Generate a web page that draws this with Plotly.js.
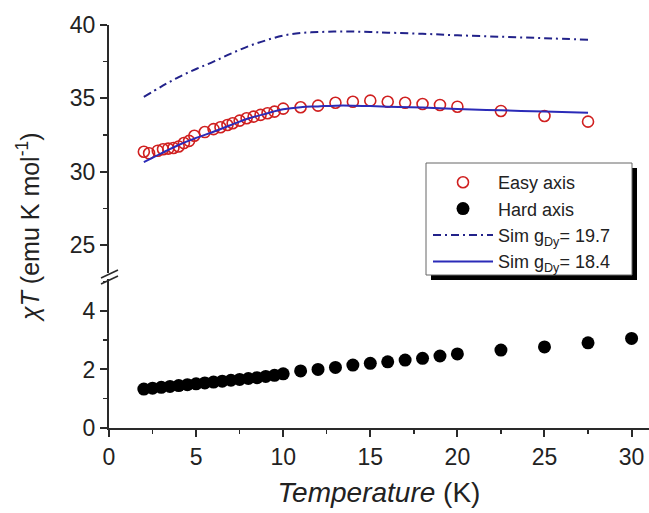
<!DOCTYPE html>
<html><head><meta charset="utf-8">
<script src="https://cdn.plot.ly/plotly-3.0.1.min.js"></script>
<style>html,body{margin:0;padding:0;background:#fff}#chart{width:649px;height:513px}</style>
</head><body><div id="chart"></div>
<script>
// Easy axis (open red circles), top segment
const easyT = [2, 2.3, 2.8, 3.1, 3.4, 3.7, 4.0, 4.3, 4.6, 4.9, 5.5, 6.0, 6.4, 6.8, 7.1, 7.5, 7.9, 8.3, 8.7, 9.1, 9.5, 10, 11, 12, 13, 14, 15, 16, 17, 18, 19, 20, 22.5, 25, 27.5];
const easyChiT = [31.36, 31.25, 31.43, 31.53, 31.57, 31.61, 31.72, 31.95, 32.1, 32.45, 32.7, 32.9, 33.03, 33.18, 33.3, 33.48, 33.64, 33.75, 33.87, 33.98, 34.09, 34.3, 34.39, 34.5, 34.7, 34.77, 34.84, 34.77, 34.7, 34.61, 34.55, 34.43, 34.14, 33.8, 33.41];
// Hard axis (filled black circles), bottom segment
const hardT = [2, 2.5, 3, 3.5, 4, 4.5, 5, 5.5, 6, 6.5, 7, 7.5, 8, 8.5, 9, 9.5, 10, 11, 12, 13, 14, 15, 16, 17, 18, 19, 20, 22.5, 25, 27.5, 30];
const hardChiT = [1.33, 1.36, 1.39, 1.42, 1.45, 1.48, 1.51, 1.54, 1.57, 1.60, 1.63, 1.66, 1.69, 1.72, 1.76, 1.80, 1.85, 1.95, 2.00, 2.07, 2.15, 2.21, 2.26, 2.32, 2.38, 2.46, 2.53, 2.66, 2.77, 2.91, 3.06];
// Simulations
const simT = [2, 3, 4, 5, 6, 7, 8, 9, 10, 11, 12, 13, 14, 15, 16, 18, 20, 22.5, 25, 27.5];
const sim197 = [35.1, 35.8, 36.45, 37.0, 37.5, 38.05, 38.55, 38.95, 39.28, 39.45, 39.52, 39.55, 39.55, 39.52, 39.48, 39.4, 39.3, 39.2, 39.1, 39.0];
const sim184 = [30.65, 31.25, 31.82, 32.3, 32.72, 33.18, 33.62, 33.95, 34.25, 34.4, 34.45, 34.5, 34.5, 34.47, 34.43, 34.37, 34.28, 34.18, 34.1, 34.02];

const xTicks = [0, 5, 10, 15, 20, 25, 30];
const yTopTicks = [25, 30, 35, 40];
const yBotTicks = [0, 2, 4];

const FONT = 'Liberation Sans, Arial, sans-serif';
const AX = '#2a2a2a';

const traces = [
  {x: easyT, y: easyChiT, xaxis: 'x', yaxis: 'y2', mode: 'markers', name: 'Easy axis',
   marker: {symbol: 'circle-open', size: 11, color: '#d02020', line: {width: 1.6, color: '#d02020'}}},
  {x: hardT, y: hardChiT, xaxis: 'x', yaxis: 'y', mode: 'markers', name: 'Hard axis',
   marker: {symbol: 'circle', size: 13, color: '#000000'}},
  {x: simT, y: sim197, xaxis: 'x', yaxis: 'y2', mode: 'lines', name: 'Sim g<sub>Dy</sub>= 19.7',
   line: {color: '#22228a', width: 2, dash: '8px,4px,2px,4px', shape: 'spline'}},
  {x: simT, y: sim184, xaxis: 'x', yaxis: 'y2', mode: 'lines', name: 'Sim g<sub>Dy</sub>= 18.4',
   line: {color: '#2b2bb8', width: 2, shape: 'spline'}}
];

const L = 109, T = 25, PW = 540, PH = 403;
const px = v => (v - L) / PW;
const pyy = v => (T + PH - v) / PH;

const layout = {
  width: 649, height: 513,
  margin: {l: L, r: 0, t: T, b: 85},
  paper_bgcolor: '#fff', plot_bgcolor: '#fff',
  font: {family: FONT, color: '#222'},
  showlegend: true,
  legend: {x: px(428), y: pyy(164), xanchor: 'left', yanchor: 'top',
    bgcolor: 'rgba(0,0,0,0)', borderwidth: 0,
    font: {family: FONT, size: 18, color: '#222'}, itemwidth: 60, tracegroupgap: 0},
  xaxis: {range: [0, 31], anchor: 'y', showline: true, linecolor: AX, linewidth: 2,
    ticks: 'outside', ticklen: 7, tickwidth: 2, tickcolor: AX,
    tickvals: xTicks, ticktext: xTicks.map(String),
    minor: {dtick: 2.5, ticks: 'outside', ticklen: 4, tickwidth: 1.5, tickcolor: AX, showgrid: false},
    showgrid: false, zeroline: false, tickfont: {size: 23, family: FONT, color: '#222'},
    title: {text: '<i>Temperature</i> (K)', font: {size: 28, family: FONT, color: '#222'}, standoff: 14}},
  yaxis: {domain: [0, 0.372], range: [0, 5.12], anchor: 'x', showline: true, linecolor: AX, linewidth: 2,
    ticks: 'outside', ticklen: 7, tickwidth: 2, tickcolor: AX,
    tickvals: yBotTicks, ticktext: yBotTicks.map(String),
    minor: {dtick: 1, ticks: 'outside', ticklen: 4, tickwidth: 1.5, tickcolor: AX, showgrid: false},
    showgrid: false, zeroline: false, tickfont: {size: 23, family: FONT, color: '#222'}},
  yaxis2: {domain: [0.385, 1], range: [23.1, 40], anchor: 'x', showline: true, linecolor: AX, linewidth: 2,
    ticks: 'outside', ticklen: 7, tickwidth: 2, tickcolor: AX,
    tickvals: yTopTicks, ticktext: yTopTicks.map(String),
    minor: {dtick: 2.5, ticks: 'outside', ticklen: 4, tickwidth: 1.5, tickcolor: AX, showgrid: false},
    showgrid: false, zeroline: false, tickfont: {size: 23, family: FONT, color: '#222'}},
  annotations: [
    {xref: 'paper', yref: 'paper', x: px(28), y: pyy(227), xanchor: 'center', yanchor: 'middle',
     textangle: -90, showarrow: false, text: '<i>χT</i> (emu K mol<sup>-1</sup>)',
     font: {size: 25, family: FONT, color: '#222'}}
  ],
  shapes: [
    // legend drop shadow and box
    {type: 'rect', xref: 'paper', yref: 'paper', x0: px(431), x1: px(637), y0: pyy(280), y1: pyy(168),
     fillcolor: '#000', line: {width: 0}, layer: 'above'},
    {type: 'rect', xref: 'paper', yref: 'paper', x0: px(426), x1: px(632), y0: pyy(275), y1: pyy(163),
     fillcolor: '#fff', line: {width: 1, color: '#666'}, layer: 'above'},
    // axis break marks
    {type: 'rect', xref: 'paper', yref: 'paper', x0: px(104), x1: px(114), y0: pyy(279), y1: pyy(274),
     fillcolor: '#fff', line: {width: 0}, layer: 'above'},
    {type: 'line', xref: 'paper', yref: 'paper', x0: px(101), y0: pyy(284), x1: px(118), y1: pyy(276),
     line: {color: AX, width: 1.5}, layer: 'above'},
    {type: 'line', xref: 'paper', yref: 'paper', x0: px(101), y0: pyy(278), x1: px(118), y1: pyy(270),
     line: {color: AX, width: 1.5}, layer: 'above'}
  ]
};

Plotly.newPlot('chart', traces, layout, {displayModeBar: false, staticPlot: true});
</script>
</body></html>
